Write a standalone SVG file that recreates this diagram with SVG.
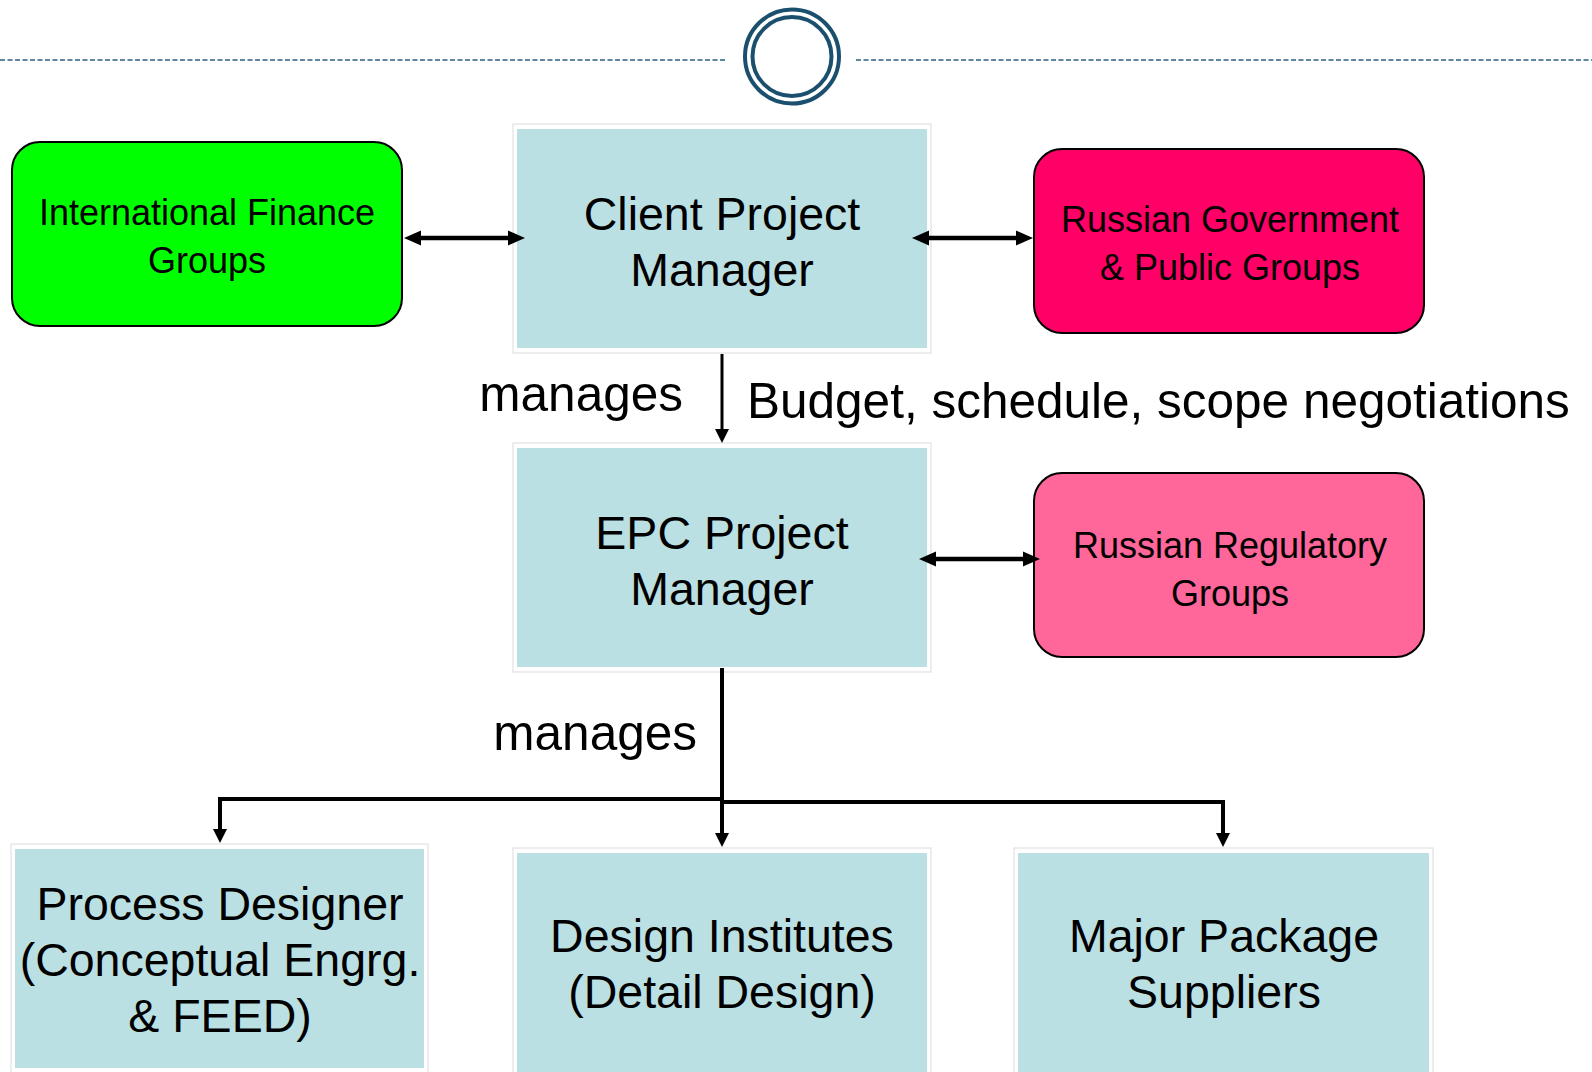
<svg xmlns="http://www.w3.org/2000/svg" width="1592" height="1072" viewBox="0 0 1592 1072">
  <defs>
    <style>
      text { font-family: "Liberation Sans", Arial, Helvetica, sans-serif; fill: #000; text-anchor: middle; }
      .t46 { font-size: 46.5px; }
      .t36 { font-size: 36px; }
      .lbl { font-size: 49.5px; }
      .frame { fill: #ffffff; stroke: #e2e2e2; stroke-width: 1.2; }
      .blue { fill: #bbe0e3; }
      .round { stroke: #000; stroke-width: 2; }
      .conn { fill: none; stroke: #000; stroke-linecap: butt; }
      .ring { fill: none; stroke: #1b4f6e; stroke-width: 4; }
      .dash { stroke: #2a5f80; stroke-width: 1.6; stroke-dasharray: 5 2.5; fill: none; }
    </style>
    <marker id="ah" markerUnits="userSpaceOnUse" markerWidth="18" markerHeight="16" viewBox="0 0 18 16" refX="3" refY="8" orient="auto-start-reverse">
      <path d="M0,0.5 L17,8 L0,15.5 z" fill="#000"/>
    </marker>
    <marker id="ahs" markerUnits="userSpaceOnUse" markerWidth="16" markerHeight="14" viewBox="0 0 16 14" refX="3" refY="7" orient="auto-start-reverse">
      <path d="M0,0 L14,7 L0,14 z" fill="#000"/>
    </marker>
  </defs>

  <g id="header">
    <line class="dash" x1="0" y1="60" x2="727" y2="60"/>
    <line class="dash" x1="856" y1="60" x2="1592" y2="60"/>
    <circle class="ring" cx="792" cy="56.5" r="47"/>
    <circle class="ring" cx="792" cy="56.5" r="39.5"/>
  </g>

  <g id="finance">
    <rect class="round" x="12" y="142" width="390" height="184" rx="28" fill="#00ff00"/>
    <text class="t36" x="207" y="225">International Finance</text>
    <text class="t36" x="207" y="273">Groups</text>
  </g>

  <g id="client-pm">
    <rect class="frame" x="513" y="124" width="418" height="229"/>
    <rect class="blue" x="517" y="129" width="410" height="219"/>
    <text class="t46" x="722" y="230">Client Project</text>
    <text class="t46" x="722" y="286">Manager</text>
  </g>

  <g id="russian-gov">
    <rect class="round" x="1034" y="149" width="390" height="184" rx="28" fill="#ff0066"/>
    <text class="t36" x="1230" y="232">Russian Government</text>
    <text class="t36" x="1230" y="280">&amp; Public Groups</text>
  </g>

  <g id="epc-pm">
    <rect class="frame" x="513" y="443" width="418" height="229"/>
    <rect class="blue" x="517" y="448" width="410" height="219"/>
    <text class="t46" x="722" y="549">EPC Project</text>
    <text class="t46" x="722" y="605">Manager</text>
  </g>

  <g id="russian-reg">
    <rect class="round" x="1034" y="473" width="390" height="184" rx="28" fill="#ff6699"/>
    <text class="t36" x="1230" y="558">Russian Regulatory</text>
    <text class="t36" x="1230" y="606">Groups</text>
  </g>

  <g id="process-designer">
    <rect class="frame" x="11" y="844" width="417" height="232"/>
    <rect class="blue" x="15" y="849" width="409" height="219"/>
    <text class="t46" x="220" y="920">Process Designer</text>
    <text class="t46" x="220" y="976">(Conceptual Engrg.</text>
    <text class="t46" x="220" y="1032">&amp; FEED)</text>
  </g>

  <g id="design-institutes">
    <rect class="frame" x="513" y="848" width="418" height="230"/>
    <rect class="blue" x="517" y="853" width="410" height="222"/>
    <text class="t46" x="722" y="952">Design Institutes</text>
    <text class="t46" x="722" y="1008">(Detail Design)</text>
  </g>

  <g id="major-package">
    <rect class="frame" x="1014" y="848" width="419" height="230"/>
    <rect class="blue" x="1018" y="853" width="411" height="222"/>
    <text class="t46" x="1224" y="952">Major Package</text>
    <text class="t46" x="1224" y="1008">Suppliers</text>
  </g>

  <g id="connectors">
    <!-- Finance <-> Client PM -->
    <line class="conn" stroke-width="4.5" x1="418" y1="238" x2="511" y2="238" marker-start="url(#ah)" marker-end="url(#ah)"/>
    <!-- Client PM <-> Russian Gov -->
    <line class="conn" stroke-width="4.5" x1="926" y1="238" x2="1019" y2="238" marker-start="url(#ah)" marker-end="url(#ah)"/>
    <!-- Client PM -> EPC PM -->
    <line class="conn" stroke-width="3" x1="722" y1="354" x2="722" y2="432" marker-end="url(#ahs)"/>
    <!-- EPC PM <-> Regulatory -->
    <line class="conn" stroke-width="4.5" x1="933" y1="559" x2="1026" y2="559" marker-start="url(#ah)" marker-end="url(#ah)"/>
    <!-- EPC PM -> three -->
    <polyline class="conn" stroke-width="4" points="722,668 722,799 220,799 220,832" marker-end="url(#ahs)"/>
    <line class="conn" stroke-width="4" x1="722" y1="799" x2="722" y2="836" marker-end="url(#ahs)"/>
    <polyline class="conn" stroke-width="4" points="722,802 1223,802 1223,836" marker-end="url(#ahs)"/>
    <text class="lbl" x="683" y="411" style="text-anchor:end">manages</text>
    <text class="lbl" x="747" y="418" style="text-anchor:start">Budget, schedule, scope negotiations</text>
    <text class="lbl" x="697" y="750" style="text-anchor:end">manages</text>
  </g>
</svg>
